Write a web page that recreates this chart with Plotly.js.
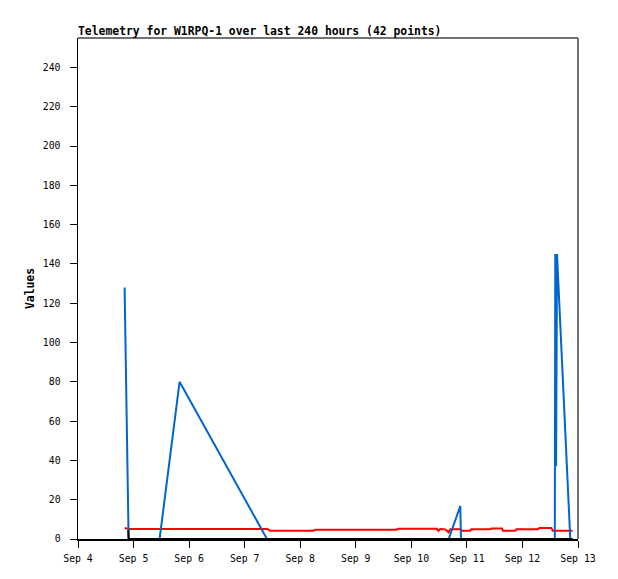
<!DOCTYPE html>
<html>
<head>
<meta charset="utf-8">
<script src="https://cdn.plot.ly/plotly-3.0.1.min.js"></script>
<style>html,body{margin:0;padding:0;background:#fff;}#chart{width:618px;height:579px;}</style>
</head>
<body>
<div id="chart"></div>
<script>
// Shared sample timestamps (42-point telemetry)
var times = [
  "2023-09-04 20:08", "2023-09-04 21:44", "2023-09-04 21:52", "2023-09-05 11:15",
  "2023-09-05 19:53", "2023-09-07 09:39", "2023-09-07 11:04", "2023-09-08 05:39",
  "2023-09-08 06:31", "2023-09-09 17:30", "2023-09-09 18:22", "2023-09-10 11:00",
  "2023-09-10 11:39", "2023-09-10 12:31", "2023-09-10 14:40", "2023-09-10 16:06",
  "2023-09-10 16:50", "2023-09-10 21:09", "2023-09-10 21:27", "2023-09-10 22:01",
  "2023-09-11 01:28", "2023-09-11 01:54", "2023-09-11 10:07", "2023-09-11 10:33",
  "2023-09-11 15:10", "2023-09-11 15:36", "2023-09-11 20:55", "2023-09-11 21:21",
  "2023-09-12 06:51", "2023-09-12 07:17", "2023-09-12 12:28", "2023-09-12 13:07",
  "2023-09-12 13:59", "2023-09-12 14:11", "2023-09-12 14:32", "2023-09-12 14:56",
  "2023-09-12 20:40", "2023-09-12 21:40"
];
var blueValues = [
  128, 0, 0, 0,
  80, 0, 0, 0,
  0, 0, 0, 0,
  0, 0, 0, 0,
  2.3, 16.8, 0, 0,
  0, 0, 0, 0,
  0, 0, 0, 0,
  0, 0, 0, 0,
  0, 145, 37, 145,
  0, 0
];
var redValues = [
  5.6, 5.1, 5.1, 5.1,
  5.1, 5.1, 4.2, 4.2,
  4.7, 4.7, 5.2, 5.2,
  4.2, 5.1, 4.9, 3.4,
  5.0, 5.0, 4.6, 4.2,
  4.2, 4.9, 4.9, 5.3,
  5.3, 4.2, 4.2, 4.9,
  4.9, 5.6, 5.6, 4.2,
  4.2, 4.2, 4.2, 4.2,
  4.2, 4.2
];
var blackValues = [
  null, 4.5, 0, 0,
  0, 0, 0, 0,
  0, 0, 0, 0,
  0, 0, 0, 0,
  0, 0, 0, 0,
  0, 0, 0, 0,
  0, 0, 0, 0,
  0, 0, 0, 0,
  0, 0, 0, 0,
  0, 0
];
var yTicks = [0, 20, 40, 60, 80, 100, 120, 140, 160, 180, 200, 220, 240];
var xRange = ["2023-09-04", "2023-09-13"];

var traces = [
  {x: times, y: redValues, type: "scatter", mode: "lines", line: {color: "#ff0000", width: 2}, hoverinfo: "skip"},
  {x: times, y: blueValues, type: "scatter", mode: "lines", line: {color: "#0066cc", width: 2}, hoverinfo: "skip"},
  {x: times, y: blackValues, type: "scatter", mode: "lines", line: {color: "#000000", width: 2}, hoverinfo: "skip", connectgaps: false}
];

var tickFont = {family: "DejaVu Sans Mono", size: 9.8, color: "#000"};
var layout = {
  width: 618, height: 579,
  margin: {l: 78, r: 40, t: 38, b: 40, pad: 0},
  paper_bgcolor: "#fff", plot_bgcolor: "#fff",
  showlegend: false,
  hovermode: false,
  title: {
    text: "<b>Telemetry for W1RPQ-1 over last 240 hours (42 points)</b>",
    font: {family: "DejaVu Sans Mono", size: 11.4, color: "#000"},
    x: 0, xref: "paper", xanchor: "left",
    y: 1 - 31/579, yref: "container", yanchor: "middle"
  },
  xaxis: {
    type: "date", range: xRange, tick0: "2023-09-04", dtick: 86400000,
    tickformat: "%b %-d", ticks: "outside", ticklen: 7, tickwidth: 1, tickcolor: "#000",
    showline: true, linecolor: "#000", linewidth: 1.5,
    showgrid: false, zeroline: false, automargin: false,
    tickfont: tickFont, ticklabelstandoff: 3
  },
  yaxis: {
    range: [0, 255], tickmode: "array", tickvals: yTicks,
    ticks: "outside", ticklen: 7, tickwidth: 1, tickcolor: "#000",
    showline: true, linecolor: "#000", linewidth: 1.5,
    showgrid: false, zeroline: false, automargin: false,
    tickfont: tickFont, ticklabelstandoff: 7,
    title: {text: "<b>Values</b>", font: {family: "DejaVu Sans Mono", size: 11.4, color: "#000"}, standoff: 6}
  },
  shapes: [
    {type: "line", xref: "paper", yref: "paper", x0: 0, x1: 1, y0: 1, y1: 1, line: {color: "#444", width: 1.5}, layer: "below"},
    {type: "line", xref: "paper", yref: "paper", x0: 1, x1: 1, y0: 0, y1: 1, line: {color: "#444", width: 1.5}, layer: "below"}
  ]
};

Plotly.newPlot("chart", traces, layout, {displayModeBar: false, staticPlot: true});
</script>
</body>
</html>
